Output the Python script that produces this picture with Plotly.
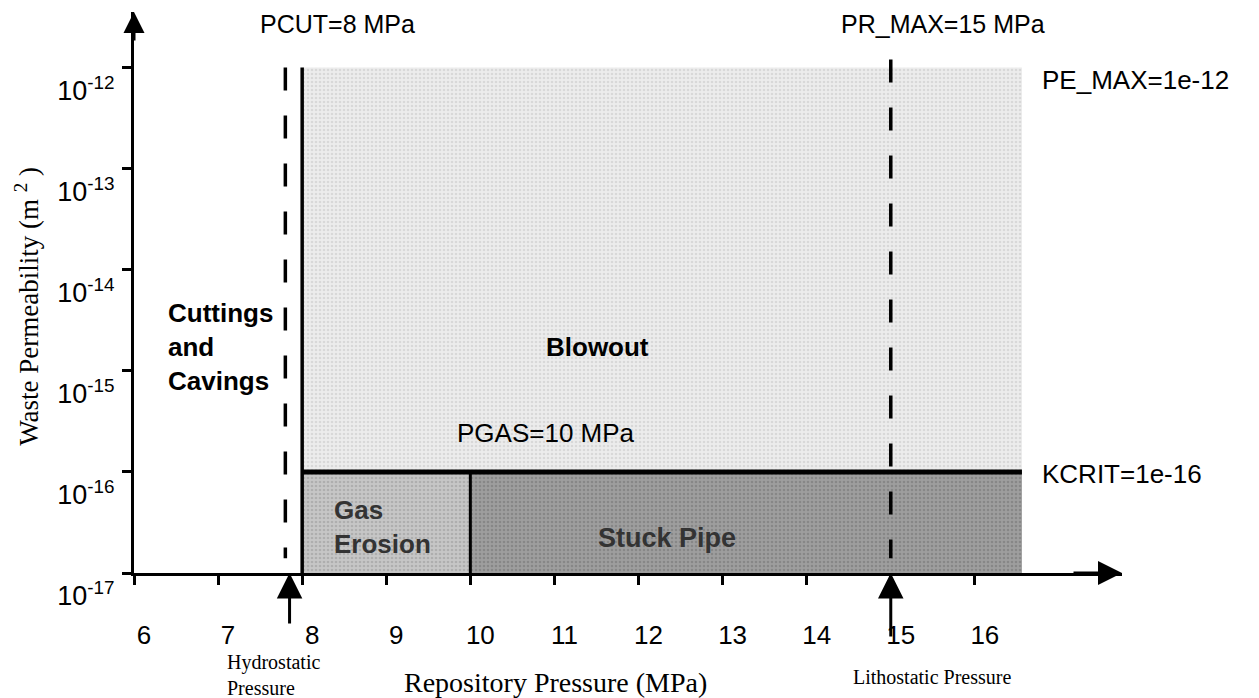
import plotly.graph_objects as go
import math

# ---- data ----
PCUT = 8.0          # MPa, cuttings cut-off pressure
PGAS = 10.0         # MPa, gas erosion / stuck pipe limit
PR_MAX = 15.0       # MPa, lithostatic pressure
P_HYDRO = 7.8       # MPa, hydrostatic pressure (as drawn)
P_END = 16.56       # MPa, right end of shaded regions
KCRIT = 1e-16       # m2
PE_MAX = 1e-12      # m2
K_MIN = 1e-17       # m2

hydro_dash_y = [1.0e-12, 1.4e-17]
litho_dash_y = [1.2e-12, 1.4e-17]

x_tick_vals = [6, 7, 8, 9, 10, 11, 12, 13, 14, 15, 16]
x_tick_text = ["6", "7", "8", "9", "10", "11", "12", "13", "14", "15", "16"]
y_tick_vals = [1e-17, 1e-16, 1e-15, 1e-14, 1e-13, 1e-12]
y_tick_text = ["10<sup>-17</sup>", "10<sup>-16</sup>", "10<sup>-15</sup>",
               "10<sup>-14</sup>", "10<sup>-13</sup>", "10<sup>-12</sup>"]

X_RANGE = [6.0, 17.75]
Y_RANGE_LOG = [-17.0, -11.45]

SANS = "Liberation Sans, Arial, sans-serif"
SERIF = "Liberation Serif, Times New Roman, serif"

fig = go.Figure()

def rect(x0, x1, y0, y1, bg, fg, name):
    fig.add_trace(go.Scatter(
        x=[x0, x1, x1, x0, x0], y=[y0, y0, y1, y1, y0],
        mode="lines", fill="toself", fillcolor=bg,
        fillpattern=dict(shape=".", bgcolor=bg, fgcolor=fg, size=4, solidity=0.35),
        line=dict(width=0), hoverinfo="skip", name=name, showlegend=False))

# regions
rect(PCUT, P_END, KCRIT, PE_MAX, "#ececec", "#c4c4c4", "Blowout")
rect(PCUT, PGAS, K_MIN, KCRIT, "#c6c6c6", "#959595", "Gas Erosion")
rect(PGAS, P_END, K_MIN, KCRIT, "#9e9e9e", "#707070", "Stuck Pipe")

def line(xs, ys, width, dash="solid"):
    fig.add_trace(go.Scatter(x=xs, y=ys, mode="lines",
                             line=dict(color="black", width=width, dash=dash),
                             hoverinfo="skip", showlegend=False))

# boundaries
line([PCUT, PCUT], [K_MIN, PE_MAX], 3.5)
line([PCUT, P_END], [KCRIT, KCRIT], 5)
line([PGAS, PGAS], [K_MIN, KCRIT], 3)
line([P_HYDRO, P_HYDRO], hydro_dash_y, 3.5, "23px,25px")
line([PR_MAX, PR_MAX], litho_dash_y, 3.5, "23px,25px")

def ann(text, x, ylog, size, font=SANS, color="black", bold=False, xanchor="center",
        align="center"):
    if bold:
        text = "<b>" + text + "</b>"
    fig.add_annotation(text=text, x=x, y=ylog, xref="x", yref="y", showarrow=False,
                       xanchor=xanchor, yanchor="middle", align=align,
                       font=dict(family=font, size=size, color=color))

def pann(text, x, y, size, font=SERIF, xanchor="center", align="center"):
    fig.add_annotation(text=text, x=x, y=y, xref="paper", yref="paper", showarrow=False,
                       xanchor=xanchor, yanchor="middle", align=align,
                       font=dict(family=font, size=size, color="black"))

# labels inside / around the plot
ann("PCUT=8 MPa", 7.47, -11.57, 25, xanchor="left")
ann("PR_MAX=15 MPa", 14.38, -11.57, 25, xanchor="left")
ann("PE_MAX=1e-12", 16.78, -12.12, 26, xanchor="left")
ann("KCRIT=1e-16", 16.78, -16.02, 26, xanchor="left")
ann("Cuttings<br>and<br>Cavings", 6.38, -14.76, 26, bold=True, xanchor="left", align="left")
ann("Blowout", 11.51, -14.76, 26, bold=True)
ann("PGAS=10 MPa", 9.82, -15.61, 26, xanchor="left")
ann("Gas<br>Erosion", 8.35, -16.54, 26, bold=True, color="#333333", xanchor="left", align="left")
ann("Stuck Pipe", 12.34, -16.65, 27, bold=True, color="#333333")

# labels below the axis (paper coordinates)
pann("Hydrostatic<br>Pressure", 0.092, -0.182, 20, xanchor="left", align="left")
pann("Lithostatic Pressure", 0.808, -0.186, 20)
pann("Repository Pressure (MPa)", 0.427, -0.196, 28)

# y-axis title
fig.add_annotation(text="Waste Permeability (m <sup>2</sup> )", xref="paper", yref="paper",
                   x=-0.109, y=0.475, showarrow=False, textangle=-90,
                   xanchor="center", yanchor="middle",
                   font=dict(family=SERIF, size=27, color="black"))

# axis arrowheads
fig.add_annotation(x=X_RANGE[1], y=Y_RANGE_LOG[0], xref="x", yref="y", ax=-50, ay=0,
                   showarrow=True, arrowhead=2, arrowsize=1.6, arrowwidth=3,
                   arrowcolor="black", text="")
fig.add_annotation(x=X_RANGE[0], y=Y_RANGE_LOG[1], xref="x", yref="y", ax=0, ay=30,
                   showarrow=True, arrowhead=2, arrowsize=1.4, arrowwidth=3,
                   arrowcolor="black", text="")
# pressure markers
fig.add_annotation(x=P_HYDRO + 0.05, y=math.log10(K_MIN), xref="x", yref="y", ax=0, ay=52,
                   showarrow=True, arrowhead=2, arrowsize=1.7, arrowwidth=3,
                   arrowcolor="black", text="")
fig.add_annotation(x=PR_MAX, y=math.log10(K_MIN), xref="x", yref="y", ax=0, ay=65,
                   showarrow=True, arrowhead=2, arrowsize=1.7, arrowwidth=3,
                   arrowcolor="black", text="")

# the page body has an 8px margin, so the figure is sized to fill the window exactly
fig.update_layout(
    width=1251, height=690,
    margin=dict(l=126, r=137, t=4, b=125, autoexpand=False),
    paper_bgcolor="white", plot_bgcolor="white",
    showlegend=False,
    xaxis=dict(range=X_RANGE, showgrid=False, zeroline=False, automargin=False,
               showline=True, linecolor="black", linewidth=3,
               ticks="outside", ticklen=9, tickwidth=3, tickcolor="black",
               tickvals=x_tick_vals, ticktext=x_tick_text,
               ticklabelstandoff=28, ticklabelshift=10,
               tickfont=dict(family=SANS, size=26, color="black")),
    yaxis=dict(type="log", range=Y_RANGE_LOG, showgrid=False, zeroline=False,
               automargin=False,
               showline=True, linecolor="black", linewidth=3,
               ticks="outside", ticklen=9, tickwidth=3, tickcolor="black",
               tickvals=y_tick_vals, ticktext=y_tick_text,
               ticklabelshift=23, ticklabelstandoff=2,
               tickfont=dict(family=SANS, size=27, color="black")),
)

fig.write_html("out.html")
